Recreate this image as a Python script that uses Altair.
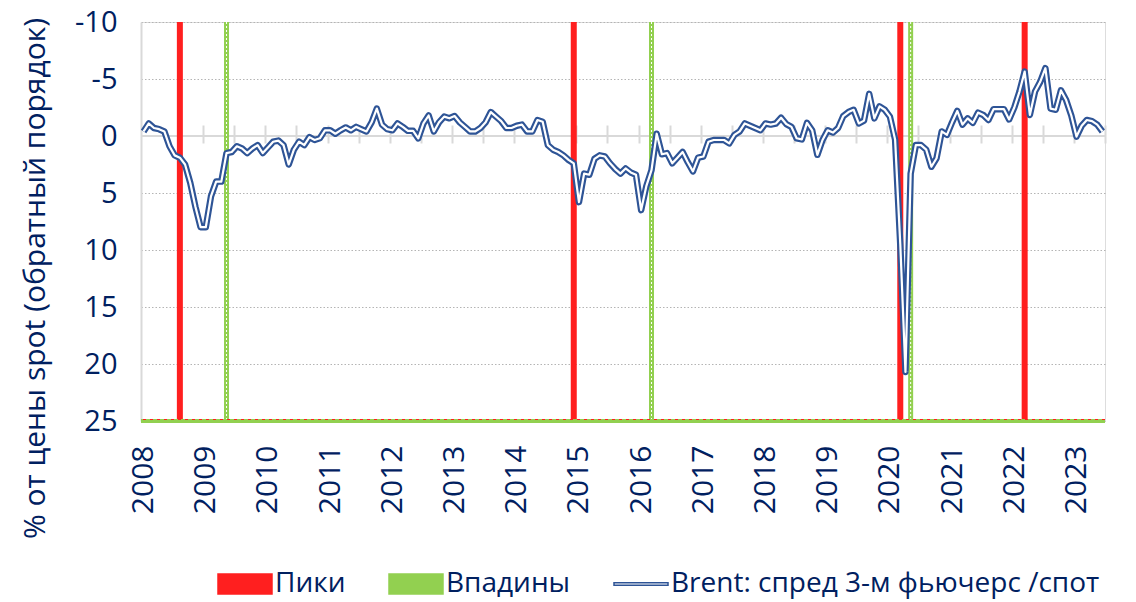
import altair as alt
import pandas as pd

FONT = "Open Sans"
NAVY = "#002060"
BLUE = "#2e5496"
RED = "#ff1f1f"
GREEN = "#92d050"
GREY = "#d9d9d9"

# Monthly Brent 3m futures/spot spread, % of spot, Jan 2008 .. Jun 2023 (index 0 = Jan 2008)
spread = [
    -0.4, -1.1, -0.7, -0.6, -0.4, 0.9, 1.7, 1.9, 2.5, 4.1, 6.2, 8.0,       # 2008
    8.0, 5.3, 4.0, 4.0, 1.5, 1.4, 0.9, 1.1, 1.5, 1.1, 0.8, 1.5,            # 2009
    1.0, 0.5, 0.4, 0.8, 2.5, 1.2, 0.5, 0.8, 0.1, 0.35, 0.2, -0.5,          # 2010
    -0.5, -0.2, -0.5, -0.75, -0.5, -0.8, -0.6, -0.4, -1.2, -2.4, -1.0, -0.6,  # 2011
    -0.5, -1.1, -0.8, -0.45, -0.45, 0.2, -1.1, -1.8, -0.4, -1.2, -1.7, -1.55,  # 2012
    -1.75, -1.2, -0.8, -0.4, -0.4, -0.7, -1.2, -2.1, -1.7, -1.3, -0.7, -0.7,   # 2013
    -0.9, -1.0, -0.4, -0.4, -1.4, -1.25, 0.8, 1.2, 1.4, 1.7, 2.1, 2.4,      # 2014
    5.8, 3.3, 3.4, 2.0, 1.7, 1.8, 2.4, 2.9, 3.3, 2.85, 3.2, 3.4,            # 2015
    6.5, 4.4, 3.0, -0.2, 1.6, 1.5, 2.4, 1.9, 1.4, 2.3, 3.1, 1.9,            # 2016
    1.8, 0.5, 0.35, 0.35, 0.35, 0.65, -0.1, -0.4, -1.1, -0.9, -0.7, -0.5,   # 2017
    -1.1, -1.0, -1.1, -1.6, -1.05, -0.8, 0.2, 0.3, -1.15, -0.5, 1.65, 0.35,  # 2018
    -0.5, -0.3, -0.7, -1.75, -2.1, -2.3, -1.1, -1.35, -3.7, -1.55, -2.6, -2.3,  # 2019
    -1.7, 0.3, 9.5, 20.7, 3.3, 0.8, 0.8, 1.2, 2.7, 1.95, -0.4, -0.1,        # 2020
    -1.2, -2.2, -1.0, -1.55, -1.15, -2.05, -1.85, -1.4, -2.35, -2.35, -2.35, -1.45,  # 2021
    -2.5, -3.9, -5.65, -1.85, -3.9, -4.75, -5.95, -2.4, -2.3, -4.0, -3.15, -1.8,   # 2022
    0.05, -0.9, -1.4, -1.3, -1.0, -0.4,                                     # 2023
]
months = list(range(len(spread)))
peak_months = [7, 83, 146, 170]      # Jul 2008, Dec 2014, Mar 2020, Mar 2022
trough_months = [16, 98, 148]        # May 2009, Mar 2016, May 2020
year_label_months = list(range(0, 186, 12))
half_year_ticks = [11.5 + 6 * k for k in range(30)]
y_ticks = [-10, -5, 0, 5, 10, 15, 20, 25]
series_names = ["Пики", "Впадины", "Brent: спред 3-м фьючерс /спот"]

df = pd.DataFrame({"m": months, "v": spread})
peaks = pd.DataFrame({"m": peak_months})
troughs = pd.DataFrame({"m": trough_months})
legend_df = pd.DataFrame({"s": series_names})

xs = alt.Scale(domain=[-0.5, 185.5], nice=False, zero=False)
ys = alt.Scale(domain=[-10, 25], reverse=True, nice=False, zero=False)

y_axis = alt.Axis(
    values=y_ticks, labelExpr="'' + datum.value", grid=True, gridColor="#b4b4b4",
    gridDash=[1.5, 2], gridWidth=1, domain=True, domainColor=GREY, domainWidth=2,
    ticks=False, labelPadding=24, labelFontSize=29, labelColor=NAVY, labelFont=FONT,
    title="% от цены spot (обратный порядок)", titleFont=FONT, titleFontSize=30,
    titleFontWeight="normal", titleColor=NAVY, titleAngle=270, titleAlign="center",
    titleBaseline="middle", titleX=-106, titleY=256,
)
x_top_ticks = alt.Axis(
    orient="top", offset=-121, domain=False, labels=False, ticks=True,
    tickColor=GREY, tickWidth=2, tickSize=18, values=half_year_ticks, grid=False, title=None,
)
x_bottom_labels = alt.Axis(
    orient="bottom", values=year_label_months, labelExpr="'' + (2008 + datum.value / 12)",
    labelAngle=270, labelPadding=24, labelFontSize=30, labelColor=NAVY, labelFont=FONT,
    domain=False, ticks=False, grid=False, labelFlush=False, labelOverlap=False, title=None,
)

zero_line = alt.Chart(df).mark_rule(color=GREY, strokeWidth=2).encode(
    y=alt.Y(datum=0, scale=ys, axis=None)
)
peak_bars = alt.Chart(peaks).mark_rule(color=RED, strokeWidth=6).encode(
    x=alt.X("m:Q", scale=xs, axis=None),
    y=alt.Y(datum=-10, scale=ys, axis=None), y2=alt.Y2(datum=25),
)
trough_bars = alt.Chart(troughs).mark_rule(color=GREEN, strokeWidth=5).encode(
    x=alt.X("m:Q", scale=xs, axis=None),
    y=alt.Y(datum=-10, scale=ys, axis=None), y2=alt.Y2(datum=25),
)
trough_dots = alt.Chart(troughs).mark_rule(color="white", strokeWidth=1, strokeDash=[2, 2]).encode(
    x=alt.X("m:Q", scale=xs, axis=None),
    y=alt.Y(datum=-10, scale=ys, axis=None), y2=alt.Y2(datum=25),
)
bottom_green = alt.Chart(df).mark_rule(color=GREEN, strokeWidth=4).encode(
    y=alt.Y(datum=25, scale=ys, axis=None)
)
bottom_red = alt.Chart(df).mark_rule(color=RED, strokeWidth=1, strokeDash=[3, 4], yOffset=-1.5).encode(
    y=alt.Y(datum=25, scale=ys, axis=None)
)
line_outer = alt.Chart(df).mark_line(color=BLUE, strokeWidth=6.5, strokeJoin="round").encode(
    x=alt.X("m:Q", scale=xs, axis=x_top_ticks),
    y=alt.Y("v:Q", scale=ys, axis=y_axis),
)
line_inner = alt.Chart(df).mark_line(color="white", strokeWidth=2.2, strokeJoin="round").encode(
    x=alt.X("m:Q", scale=xs, axis=x_bottom_labels),
    y=alt.Y("v:Q", scale=ys, axis=None),
)

leg = alt.Legend(
    title=None, orient="none", legendX=76, legendY=534, direction="horizontal",
    symbolSize=2916, symbolStrokeWidth=1.5, labelFont=FONT, labelFontSize=28,
    labelColor=NAVY, labelOffset=2, columnPadding=40, padding=0, labelLimit=700,
)
shape_rect = "M-1,-0.37H1V0.37H-1Z"
shape_dbl = "M-1,-0.045H1V0.045H-1Z"
legend_layer = alt.Chart(legend_df).transform_filter("false").mark_point(opacity=1, filled=True).encode(
    fill=alt.Fill("s:N", scale=alt.Scale(domain=series_names, range=[RED, GREEN, "white"]), legend=leg),
    stroke=alt.Stroke("s:N", scale=alt.Scale(domain=series_names, range=[RED, GREEN, BLUE]), legend=leg),
    shape=alt.Shape("s:N", scale=alt.Scale(domain=series_names, range=[shape_rect, shape_rect, shape_dbl]), legend=leg),
)

chart = alt.layer(
    zero_line, peak_bars, trough_bars, trough_dots, bottom_green, bottom_red,
    line_outer, line_inner, legend_layer,
).resolve_axis(x="independent", y="independent").properties(
    width=964, height=399,
    autosize=alt.AutoSizeParams(type="none"),
    padding={"left": 133, "top": 14, "right": 15, "bottom": 178},
).configure_view(stroke=None).configure(background="white")

chart.save("out.html", embed_options={"renderer": "svg", "actions": False})
